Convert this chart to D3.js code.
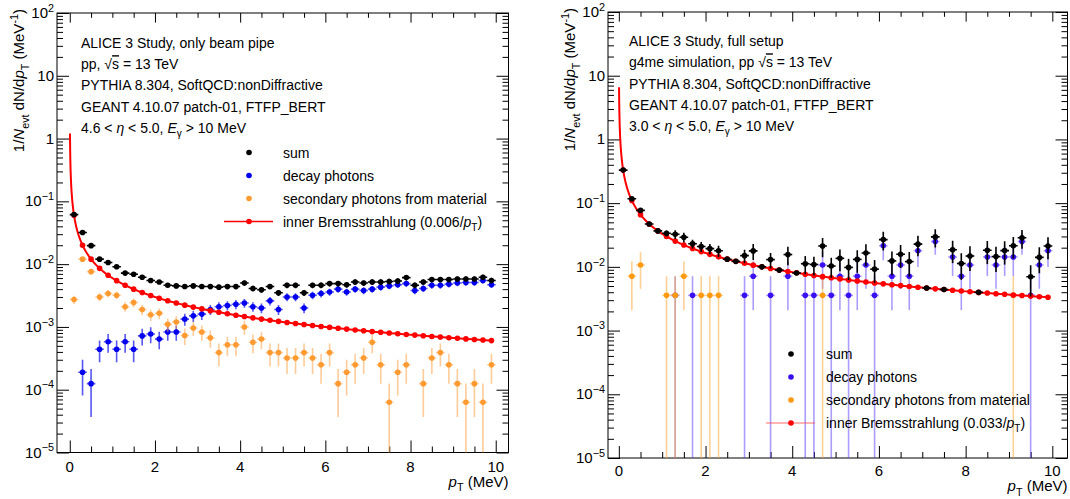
<!DOCTYPE html>
<html>
<head>
<meta charset="utf-8">
<script src="https://cdn.jsdelivr.net/npm/d3@7"></script>
<style>
  html, body { margin: 0; padding: 0; background: #fff; }
  svg { display: block; font-family: "Liberation Sans", Arial, Helvetica, sans-serif; }
</style>
</head>
<body>
<svg id="chart" width="1070" height="499"></svg>
<script>
// ---- binning (pT bin centres, 0.2 MeV wide bins) ----
const pTBins = [
  0.1, 0.3, 0.5, 0.7, 0.9, 1.1, 1.3, 1.5, 1.7, 1.9,
  2.1, 2.3, 2.5, 2.7, 2.9, 3.1, 3.3, 3.5, 3.7, 3.9,
  4.1, 4.3, 4.5, 4.7, 4.9, 5.1, 5.3, 5.5, 5.7, 5.9,
  6.1, 6.3, 6.5, 6.7, 6.9, 7.1, 7.3, 7.5, 7.7, 7.9,
  8.1, 8.3, 8.5, 8.7, 8.9, 9.1, 9.3, 9.5, 9.7, 9.9
];
const binHalfWidth = 0.1;

// ---- only beam pipe ----
const beamPipeSum = [
  0.0615, 0.032, 0.0197, 0.0120, 0.0106, 0.0091, 0.0072, 0.0069, 0.0062, 0.0055,
  0.0052, 0.0046, 0.0045, 0.0044, 0.0045, 0.0044, 0.0044, 0.0043, 0.0044, 0.0044,
  0.0050, 0.0041, 0.0039, 0.0044, 0.0035, 0.0046, 0.0046, 0.0035, 0.0046, 0.0046,
  0.0049, 0.0049, 0.0047, 0.0052, 0.0050, 0.0052, 0.0052, 0.0053, 0.0054, 0.0061,
  0.0046, 0.0052, 0.0057, 0.0057, 0.0057, 0.0058, 0.0058, 0.0058, 0.0062, 0.0055
];
const beamPipeDecay = [
  null, 1.9e-4, 1.25e-4, 4.4e-4, 5.8e-4, 4.4e-4, 5.8e-4, 4.4e-4, 7.2e-4, 7.7e-4,
  6.4e-4, 8.3e-4, 8.3e-4, 1.33e-3, 1.5e-3, 1.6e-3, 1.9e-3, 2.1e-3, 2.2e-3, 2.3e-3,
  2.4e-3, 2.1e-3, 2.0e-3, 2.6e-3, 1.9e-3, 3.0e-3, 3.0e-3, 2.0e-3, 3.2e-3, 3.4e-3,
  3.6e-3, 4.0e-3, 3.6e-3, 4.0e-3, 3.8e-3, 4.0e-3, 4.3e-3, 4.5e-3, 4.7e-3, 4.9e-3,
  3.8e-3, 4.1e-3, 4.6e-3, 4.6e-3, 4.8e-3, 5.0e-3, 5.1e-3, 5.1e-3, 5.5e-3, 4.7e-3
];
const beamPipeSecondary = [
  2.73e-3, 1.2e-2, 7.6e-3, 3.0e-3, 3.4e-3, 3.2e-3, 2.1e-3, 2.45e-3, 1.9e-3, 1.56e-3,
  1.65e-3, 1.1e-3, 1.2e-3, 7.3e-4, 9.6e-4, 8.3e-4, 6.7e-4, 3.9e-4, 5.2e-4, 5.2e-4,
  1.0e-3, 5.7e-4, 6.4e-4, 3.9e-4, 3.9e-4, 3.2e-4, 3.2e-4, 3.9e-4, 3.2e-4, 2.5e-4,
  3.9e-4, 1.25e-4, 1.9e-4, 2.5e-4, 3.2e-4, 5.7e-4, 2.5e-4, 6.3e-5, 1.9e-4, 2.5e-4,
  null, 1.25e-4, 3.2e-4, 3.9e-4, 2.5e-4, 1.25e-4, 6.3e-5, 1.25e-4, 6.3e-5, 2.5e-4
];
const beamPipeBremsCoef = 0.006;
const beamPipeEntryWeight = 6.25e-5;   // one entry per event per MeV

// ---- full setup ----
const fullSetupSum = [
  0.33, 0.117, 0.077, 0.047, 0.0367, 0.0336, 0.0325, 0.0291, 0.0230, 0.0209,
  0.0193, 0.0179, 0.0132, 0.0122, 0.0150, 0.0178, 0.0100, 0.0130, 0.0089, 0.0156,
  0.0080, 0.0112, 0.0109, 0.0213, 0.0103, 0.0136, 0.0098, 0.0131, 0.0165, 0.0092,
  0.0268, 0.0124, 0.0158, 0.0121, 0.0227, 0.00465, 0.0295, 0.0044, 0.0186, 0.0113,
  0.0148, 0.00398, 0.0182, 0.0145, 0.0180, 0.0215, 0.0286, 0.0070, 0.0141, 0.0212
];
const fullSetupDecay = [
  null, null, null, null, null, null, 0.00357, null, 0.00357, null,
  null, null, null, null, 0.00357, 0.00714, null, 0.00357, null, 0.00714,
  null, 0.00357, 0.00357, 0.0107, 0.00357, 0.00714, 0.00357, 0.00714, 0.0107, 0.00357,
  0.0214, 0.00714, 0.0107, 0.00714, 0.0179, null, 0.025, null, 0.0143, 0.00714,
  0.0107, null, 0.0143, 0.0107, 0.0143, 0.0143, 0.025, 0.00357, 0.0107, 0.0179
];
const fullSetupSecondary = [
  null, 0.00714, 0.0107, null, null, 0.00357, 0.00357, 0.00714, null, 0.00357,
  0.00357, 0.00357, null, null, null, null, null, null, null, null,
  null, null, null, 0.00357, null, null, null, null, null, null,
  null, null, null, null, null, null, null, null, null, null,
  null, null, null, null, null, 0.00357, null, null, null, null
];
const fullSetupBremsCoef = 0.033;
const fullSetupEntryWeight = 0.00357;

// ---- axes ----
const xMajorTicks = [0, 2, 4, 6, 8, 10];
const xMinorTicks = [0.5, 1, 1.5, 2.5, 3, 3.5, 4.5, 5, 5.5, 6.5, 7, 7.5, 8.5, 9, 9.5];
const yDecades = [1e-5, 1e-4, 1e-3, 1e-2, 1e-1, 1, 10, 100];
const yDecadeLabels = [["10", "\u22125"], ["10", "\u22124"], ["10", "\u22123"], ["10", "\u22122"],
                       ["10", "\u22121"], ["1", null], ["10", null], ["10", "2"]];
const legendLabels = ["sum", "decay photons", "secondary photons from material"];

const svg = d3.select("#chart");

// appends rich-text segments: {t, i (italic), sub, sup, ovl}
function richText(sel, segs, size) {
  let shift = 0;
  segs.forEach(s => {
    const ts = sel.append("tspan").text(s.t);
    let target = 0, fs = size;
    if (s.sub) { target = size * 0.3; fs = size * 0.72; }
    if (s.sup) { target = -size * 0.42; fs = size * 0.72; }
    ts.attr("dy", target - shift).attr("font-size", fs);
    shift = target;
    if (s.i) ts.attr("font-style", "italic");
    if (s.ovl) ts.style("text-decoration", "overline");
  });
}

function drawPanel(p) {
  const g = svg.append("g");
  const x = d3.scaleLinear().domain(p.xDomain).range([p.left, p.right]);
  const y = d3.scaleLog().domain([1e-5, 1e2]).range([p.bottom, p.top]);

  const clipId = "clip" + p.id;
  g.append("clipPath").attr("id", clipId).append("rect")
    .attr("x", p.left).attr("y", p.top)
    .attr("width", p.right - p.left).attr("height", p.bottom - p.top);

  // axes: ticks on all four sides
  const axes = [
    [d3.axisBottom(x), 0, p.bottom, xMajorTicks, xMinorTicks, -p.tickMajor, -p.tickMinor],
    [d3.axisTop(x), 0, p.top, xMajorTicks, xMinorTicks, -p.tickMajor * 0.8, -p.tickMinor * 0.8],
  ];
  const yMinor = [];
  yDecades.slice(0, -1).forEach(d => { for (let k = 2; k <= 9; k++) yMinor.push(d * k); });
  axes.push([d3.axisLeft(y), p.left, 0, yDecades, yMinor, -p.tickMajor, -p.tickMinor]);
  axes.push([d3.axisRight(y), p.right, 0, yDecades, yMinor, -p.tickMajor, -p.tickMinor]);

  axes.forEach(([ax, tx, ty, major, minor, lenMaj, lenMin]) => {
    [[major, lenMaj], [minor, lenMin]].forEach(([vals, len]) => {
      const a = g.append("g").attr("transform", `translate(${tx},${ty})`)
        .call(ax.tickValues(vals).tickSize(len).tickFormat(""));
      a.select(".domain").remove();
      a.selectAll("line").attr("stroke", "#000").attr("stroke-width", 1);
    });
  });

  // x tick labels
  g.append("g").selectAll("text").data(xMajorTicks).join("text")
    .attr("x", d => x(d)).attr("y", p.bottom + p.xLabelDy)
    .attr("text-anchor", "middle").attr("font-size", 15).text(d => d);

  // y tick labels
  yDecades.forEach((d, i) => {
    const [base, exp] = yDecadeLabels[i];
    const t = g.append("text").attr("x", p.left - 3).attr("y", y(d) + 5)
      .attr("text-anchor", "end").attr("font-size", 15);
    const segs = [{ t: base }];
    if (exp) segs.push({ t: exp, sup: true });
    richText(t, segs, 15);
  });

  // axis titles
  const xt = g.append("text").attr("x", p.right).attr("y", p.bottom + p.xTitleDy)
    .attr("text-anchor", "end").attr("font-size", 15);
  richText(xt, [{ t: "p", i: true }, { t: "T", sub: true }, { t: " (MeV)" }], 15);

  const yt = g.append("text")
    .attr("transform", `translate(${p.left - 33},${p.top - 4}) rotate(-90)`)
    .attr("text-anchor", "end").attr("font-size", 15);
  richText(yt, [{ t: "1/" }, { t: "N", i: true }, { t: "evt", sub: true }, { t: "  dN/d" },
                { t: "p", i: true }, { t: "T", sub: true }, { t: " (MeV" }, { t: "-1", sup: true },
                { t: ")" }], 15);

  // frame
  g.append("rect").attr("x", p.left).attr("y", p.top)
    .attr("width", p.right - p.left).attr("height", p.bottom - p.top)
    .attr("fill", "none").attr("stroke", "#000").attr("stroke-width", 1);

  const data = g.append("g").attr("clip-path", `url(#${clipId})`);

  const series = [
    { vals: p.decay, err: (v) => Math.sqrt(v * p.w), color: p.decayColor, barColor: p.decayBar, barW: 1.6 },
    { vals: p.secondary, err: (v) => Math.sqrt(v * p.w), color: p.secColor, barColor: p.secBar, barW: 1.6 },
  ];

  function drawPoints(s) {
    const pts = pTBins.map((c, i) => ({ c, v: s.vals[i], i })).filter(d => d.v != null);
    const eg = data.append("g");
    pts.forEach(d => {
      const e = s.err(d.v, d.i);
      const lo = d.v - e > 1e-6 ? y(d.v - e) : p.bottom + 2;
      eg.append("line").attr("x1", x(d.c)).attr("x2", x(d.c))
        .attr("y1", lo).attr("y2", y(d.v + e))
        .attr("stroke", s.barColor).attr("stroke-width", s.barW);
      eg.append("line").attr("x1", x(d.c - binHalfWidth)).attr("x2", x(d.c + binHalfWidth))
        .attr("y1", y(d.v)).attr("y2", y(d.v))
        .attr("stroke", s.barColor).attr("stroke-width", s.barW);
    });
    eg.selectAll("circle").data(pts).join("circle")
      .attr("cx", d => x(d.c)).attr("cy", d => y(d.v)).attr("r", p.markerR)
      .attr("fill", s.color);
  }

  series.forEach(drawPoints);

  // inner bremsstrahlung: coef / pT
  const curvePT = d3.range(0, 1.00001, 0.002).map(t => 0.005 * Math.pow(9.9 / 0.005, t));
  data.append("path")
    .datum(curvePT)
    .attr("fill", "none").attr("stroke", "#ff0000").attr("stroke-width", 2)
    .attr("d", d3.line().x(d => x(d)).y(d => y(p.coef / d)));
  data.append("g").selectAll("circle").data(pTBins).join("circle")
    .attr("cx", d => x(d)).attr("cy", d => y(p.coef / d)).attr("r", p.markerR)
    .attr("fill", "#ff0000");

  // sum on top
  drawPoints({
    vals: p.sum,
    err: (v, i) => Math.sqrt(((p.decay[i] || 0) + (p.secondary[i] || 0)) * p.w),
    color: "#000", barColor: "#000", barW: 1.6
  });

  // info text
  p.info.forEach((segs, i) => {
    const t = g.append("text").attr("x", p.infoX).attr("y", p.infoY + i * p.infoStep)
      .attr("font-size", 14);
    richText(t, segs, 14);
  });

  // legend
  const colors = ["#000", p.decayColor, p.secColor];
  legendLabels.forEach((lab, i) => {
    const yy = p.legY + i * p.legStep;
    g.append("circle").attr("cx", p.legMarkX).attr("cy", yy).attr("r", p.markerR).attr("fill", colors[i]);
    g.append("text").attr("x", p.legTextX).attr("y", yy + 5).attr("font-size", 14).text(lab);
  });
  const yb = p.legY + 3 * p.legStep;
  g.append("line").attr("x1", p.legMarkX - 25).attr("x2", p.legMarkX + 24)
    .attr("y1", yb).attr("y2", yb).attr("stroke", p.legLine).attr("stroke-width", 1.5);
  g.append("circle").attr("cx", p.legMarkX).attr("cy", yb).attr("r", p.markerR).attr("fill", "#ff0000");
  const lt = g.append("text").attr("x", p.legTextX).attr("y", yb + 5).attr("font-size", 14);
  richText(lt, [{ t: `inner Bremsstrahlung (${p.coef}/` }, { t: "p", i: true }, { t: "T", sub: true }, { t: ")" }], 14);
}

const etaLine = (lo) => [{ t: `${lo} < ` }, { t: "\u03b7", i: true }, { t: " < 5.0, " },
                         { t: "E", i: true }, { t: "\u03b3", sub: true }, { t: " > 10 MeV" }];

drawPanel({
  id: "a", left: 57, right: 508.5, top: 13, bottom: 452.5, xDomain: [-0.3, 10.3],
  tickMajor: 12, tickMinor: 6, markerR: 2.8, xLabelDy: 19, xTitleDy: 34,
  sum: beamPipeSum, decay: beamPipeDecay, secondary: beamPipeSecondary,
  coef: beamPipeBremsCoef, w: beamPipeEntryWeight,
  decayColor: "#0000ee", decayBar: "rgba(30,30,235,0.75)",
  secColor: "#ff9a30", secBar: "rgba(255,160,70,0.55)",
  legLine: "#ff0000",
  info: [
    [{ t: "ALICE 3 Study, only beam pipe" }],
    [{ t: "pp, \u221a" }, { t: "s", ovl: true }, { t: " = 13 TeV" }],
    [{ t: "PYTHIA 8.304, SoftQCD:nonDiffractive" }],
    [{ t: "GEANT 4.10.07 patch-01, FTFP_BERT" }],
    etaLine("4.6")
  ],
  infoX: 81, infoY: 48, infoStep: 21.2,
  legMarkX: 249, legTextX: 283, legY: 152.5, legStep: 23
});

drawPanel({
  id: "b", left: 608, right: 1067.5, top: 12, bottom: 458, xDomain: [-0.25, 10.35],
  tickMajor: 12, tickMinor: 6, markerR: 2.8, xLabelDy: 17.5, xTitleDy: 33,
  sum: fullSetupSum, decay: fullSetupDecay, secondary: fullSetupSecondary,
  coef: fullSetupBremsCoef, w: fullSetupEntryWeight,
  decayColor: "#3a10f0", decayBar: "rgba(90,60,250,0.5)",
  secColor: "#ff9a10", secBar: "rgba(255,170,60,0.55)",
  legLine: "rgba(255,60,60,0.5)",
  info: [
    [{ t: "ALICE 3 Study, full setup" }],
    [{ t: "g4me simulation, pp \u221a" }, { t: "s", ovl: true }, { t: " = 13 TeV" }],
    [{ t: "PYTHIA 8.304, SoftQCD:nonDiffractive" }],
    [{ t: "GEANT 4.10.07 patch-01, FTFP_BERT" }],
    etaLine("3.0")
  ],
  infoX: 629, infoY: 46, infoStep: 21.3,
  legMarkX: 791, legTextX: 826, legY: 354, legStep: 23
});
</script>
</body>
</html>
